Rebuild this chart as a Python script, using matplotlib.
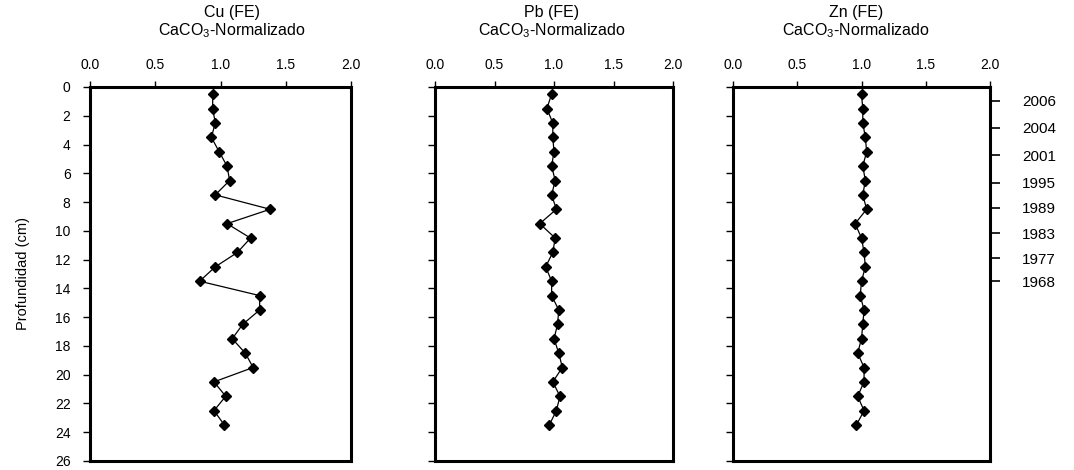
import matplotlib
matplotlib.use("Agg")
from matplotlib import pyplot as plt

plt.rcParams['font.family'] = ['Liberation Sans', 'DejaVu Sans']
plt.rcParams['mathtext.default'] = 'regular'
plt.rcParams['font.size'] = 10

# sample depths (cm), one every centimetre
depth = [0.5, 1.5, 2.5, 3.5, 4.5, 5.5, 6.5, 7.5, 8.5, 9.5, 10.5, 11.5,
         12.5, 13.5, 14.5, 15.5, 16.5, 17.5, 18.5, 19.5, 20.5, 21.5, 22.5, 23.5]

# enrichment factors, CaCO3 normalised
cu_fe = [0.94, 0.94, 0.96, 0.93, 0.99, 1.05, 1.07, 0.96, 1.38, 1.05, 1.23, 1.13,
         0.96, 0.84, 1.30, 1.30, 1.17, 1.09, 1.19, 1.25, 0.95, 1.04, 0.95, 1.03]
pb_fe = [0.98, 0.94, 0.99, 0.99, 1.00, 0.98, 1.01, 0.98, 1.02, 0.88, 1.01, 0.99,
         0.93, 0.98, 0.98, 1.04, 1.03, 1.00, 1.04, 1.07, 0.99, 1.05, 1.02, 0.96]
zn_fe = [1.00, 1.01, 1.01, 1.03, 1.04, 1.01, 1.03, 1.01, 1.04, 0.95, 1.00, 1.02,
         1.03, 1.00, 0.99, 1.02, 1.01, 1.00, 0.97, 1.02, 1.02, 0.97, 1.02, 0.96]

# dating (year) against depth
year_depth = [0.95, 2.85, 4.75, 6.65, 8.4, 10.15, 11.9, 13.5]
year_labels = ['2006', '2004', '2001', '1995', '1989', '1983', '1977', '1968']

panels = [
    ('Cu', cu_fe, [90, 351], 232),
    ('Pb', pb_fe, [435, 673], 552),
    ('Zn', zn_fe, [733, 990], 856),
]

W, H = 1074, 470
top_px, bottom_px = 87, 461

fig = plt.figure(figsize=(W / 100, H / 100), dpi=100)

axes = []
for i, (name, vals, (x0, x1), tx) in enumerate(panels):
    ax = fig.add_axes([x0 / W, 1 - bottom_px / H, (x1 - x0) / W, (bottom_px - top_px) / H])
    ax.plot(vals, depth, color='black', linewidth=0.9, marker='D',
            markersize=5.2, markerfacecolor='black', markeredgecolor='black')
    ax.set_xlim(0, 2)
    ax.set_ylim(26, 0)
    ax.set_xticks([0, 0.5, 1.0, 1.5, 2.0])
    ax.set_xticklabels(['0.0', '0.5', '1.0', '1.5', '2.0'])
    ax.set_yticks(range(0, 27, 2))
    ax.xaxis.tick_top()
    ax.tick_params(axis='x', direction='out', length=4, width=1, pad=7, labelsize=10)
    ax.tick_params(axis='y', direction='out', length=5, width=1, pad=9, labelsize=10)
    if i > 0:
        ax.set_yticklabels([])
    for s in ax.spines.values():
        s.set_linewidth(2.2)
    fig.text(tx / W, 1 - 13 / H, name + ' (FE)', ha='center', va='center', fontsize=11.5)
    fig.text(tx / W, 1 - 31 / H, 'CaCO$_3$-Normalizado', ha='center', va='center', fontsize=11.5)
    axes.append(ax)

axes[0].set_ylabel('Profundidad (cm)', fontsize=10.5, labelpad=18)

# years on the right of the last panel
yr = axes[2].twinx()
yr.set_ylim(26, 0)
yr.set_yticks(year_depth)
yr.set_yticklabels(year_labels)
yr.tick_params(axis='y', direction='out', length=7, width=1.2, pad=16, labelsize=11)
for s in yr.spines.values():
    s.set_visible(False)

fig.savefig('out.png', dpi=100)
